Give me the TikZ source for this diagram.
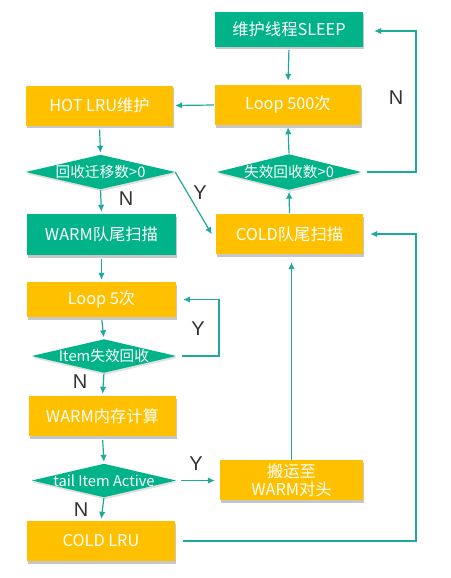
\documentclass[tikz,border=0pt]{standalone}
\usepackage{fontspec}
\setmainfont{Noto Sans CJK SC}
\newfontfamily\labfont{Liberation Sans}
\usetikzlibrary{arrows.meta,shadows,backgrounds}
\definecolor{gr}{HTML}{00B388}
\definecolor{yl}{HTML}{FFC000}
\definecolor{ln}{HTML}{1FA99C}
\definecolor{lab}{HTML}{333333}
\tikzset{
  box/.style={rectangle, inner sep=0pt, text=white,
    font=\fontsize{16.3}{18}\selectfont, align=center,
    drop shadow={shadow xshift=1pt,shadow yshift=-2.5pt,fill=black,opacity=0.22}},
  gbox/.style={box, fill=gr},
  ybox/.style={box, fill=yl},
  dia/.style={rectangle, inner sep=0pt, text=white, font=\fontsize{14.7}{17}\selectfont},
  arr/.style={draw=ln, line width=1.2pt, -{Latex[length=7pt,width=6.5pt]}},
  ylab/.style={text=lab, font=\labfont\fontsize{20}{20}\selectfont}
}
\begin{document}
\begin{tikzpicture}[x=1pt,y=-1pt]
\useasboundingbox (0,0) rectangle (450,578);

\node[gbox, minimum width=148pt, minimum height=35pt] (sleep) at (289,29.5) {维护线程SLEEP};
\node[ybox, minimum width=147pt, minimum height=40pt] (hot) at (99.5,105.5) {HOT LRU维护};
\node[ybox, minimum width=146pt, minimum height=40pt] (loop500) at (288,105) {Loop 500次};
\node[dia, minimum width=149pt, minimum height=34pt] (d1) at (100.5,172) {回收迁移数>0};
\node[dia, minimum width=144pt, minimum height=35pt] (d2) at (289,172) {失效回收数>0};
\node[gbox, minimum width=149pt, minimum height=41pt] (warm) at (101.5,234.5) {WARM队尾扫描};
\node[ybox, minimum width=147pt, minimum height=40pt] (cold) at (289.5,234) {COLD队尾扫描};
\node[ybox, minimum width=149pt, minimum height=35pt] (loop5) at (101.5,299.5) {Loop 5次};
\node[dia, minimum width=144pt, minimum height=33pt] (d3) at (104,356) {Item失效回收};
\node[ybox, minimum width=147pt, minimum height=40pt] (warmmem) at (102.5,416) {WARM内存计算};
\node[dia, minimum width=144pt, minimum height=33pt] (d4) at (104,480.5) {tail Item Active};
\node[ybox, minimum width=143pt, minimum height=40pt] (move) at (291.5,480) {搬运至\\WARM对头};
\node[ybox, minimum width=148pt, minimum height=40pt] (coldlru) at (101,541) {COLD LRU};

\begin{scope}[on background layer]
\fill[white] (0,0) rectangle (450,578);
\foreach \d in {d1,d2,d3,d4}{
  \fill[black,opacity=0.12] ([shift={(1pt,-2pt)}]\d.west) -- ([shift={(1pt,-2pt)}]\d.north) -- ([shift={(1pt,-2pt)}]\d.east) -- ([shift={(1pt,-2pt)}]\d.south) -- cycle;
  \fill[gr] (\d.west) -- (\d.north) -- (\d.east) -- (\d.south) -- cycle;
}
\end{scope}

\coordinate (rx) at (416,0);
\coordinate (mx) at (219,0);

\draw[arr, shorten <=3pt, shorten >=4pt] (sleep.south) -- (loop500.north);
\draw[arr, shorten <=1pt, shorten >=2pt] (loop500.west) -- (hot.east);
\draw[arr, shorten <=4pt, shorten >=2pt] (hot.south) -- (d1.north);
\draw[arr, shorten <=1pt, shorten >=2pt] (d1.south) -- (warm.north);
\draw[arr, shorten >=2pt] (d1.east) -- ([xshift=-3pt,yshift=-2pt]cold.west);
\draw[arr, shorten <=1pt, shorten >=2pt] (cold.north) -- (d2.south);
\draw[arr, shorten <=1pt, shorten >=2pt] (d2.north) -- (loop500.south);
\draw[arr, shorten <=6pt, shorten >=11pt] (d2.east) -- (d2.east -| rx) |- ([yshift=-1.5pt]sleep.east);
\draw[arr, shorten <=4pt, shorten >=2pt] (warm.south) -- (loop5.north);
\draw[arr, shorten <=3pt, shorten >=2pt] (loop5.south) -- (d3.north);
\draw[arr, shorten <=6pt, shorten >=7pt] (d3.east) -- (d3.east -| mx) |- (loop5.east);
\draw[arr, shorten <=1pt, shorten >=2pt] (d3.south) -- (warmmem.north);
\draw[arr, shorten <=4pt, shorten >=2pt] (warmmem.south) -- (d4.north);
\draw[arr, shorten <=5pt, shorten >=5pt] (d4.east) -- (move.west |- d4.east);
\draw[arr, shorten <=1pt, shorten >=2pt] (d4.south) -- (coldlru.north);
\draw[arr, shorten >=8pt] (move.north) -- (move.north |- cold.south);
\draw[arr, shorten <=8pt, shorten >=7pt] (coldlru.east) -- (coldlru.east -| rx) |- (cold.east);

\node[ylab] (n1) at (126,199) {N};
\node[ylab] (y1) at (200,193) {Y};
\node[ylab] (n2) at (396,98) {N};
\node[ylab] (y2) at (198,329) {Y};
\node[ylab] (n3) at (80,382) {N};
\node[ylab] (y3) at (196,464) {Y};
\node[ylab] (n4) at (81,510) {N};
\end{tikzpicture}
\end{document}
